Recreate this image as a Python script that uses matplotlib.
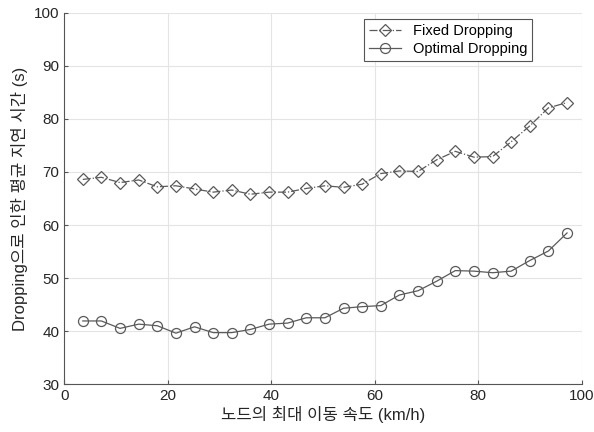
import matplotlib
matplotlib.use('Agg')
import matplotlib.pyplot as plt

# node max speed (km/h): 1..27 m/s
speeds = [3.6 * k for k in range(1, 28)]
fixed_delay = [68.6, 69.0, 68.0, 68.5, 67.2, 67.4, 66.8, 66.2, 66.6, 65.8,
               66.2, 66.2, 66.9, 67.4, 67.1, 67.7, 69.7, 70.2, 70.1, 72.3,
               73.9, 72.8, 72.9, 75.7, 78.7, 82.1, 83.1]
optimal_delay = [41.9, 41.9, 40.5, 41.3, 41.0, 39.6, 40.8, 39.7, 39.7, 40.3,
                 41.3, 41.5, 42.5, 42.5, 44.3, 44.6, 44.8, 46.8, 47.6, 49.4,
                 51.4, 51.3, 51.0, 51.3, 53.3, 55.1, 58.5]
xticks = [0, 20, 40, 60, 80, 100]
yticks = [30, 40, 50, 60, 70, 80, 90, 100]

FONTS = ['Liberation Sans', 'Noto Sans CJK KR']
TXT = '#262626'
LINE = '#5a5a5a'

plt.rcParams['font.family'] = FONTS
plt.rcParams['font.size'] = 11

fig = plt.figure(figsize=(5.94, 4.32), dpi=100)
ax = fig.add_axes([0.108, 0.111, 0.871, 0.859])

ax.plot(speeds, fixed_delay, '-.', color=LINE, lw=0.9, marker='D',
        markersize=6.2, markerfacecolor='none', markeredgecolor=LINE,
        markeredgewidth=0.9, label='Fixed Dropping')
ax.plot(speeds, optimal_delay, '-', color=LINE, lw=0.9, marker='o',
        markersize=7.2, markerfacecolor='none', markeredgecolor=LINE,
        markeredgewidth=0.9, label='Optimal Dropping')

ax.set_xlim(0, 100)
ax.set_ylim(30, 100)
ax.set_xticks(xticks)
ax.set_yticks(yticks)
ax.grid(True, color='#e4e4e4', lw=0.8)
ax.set_axisbelow(True)
ax.tick_params(direction='in', length=3, color='#555555', labelcolor=TXT,
               labelsize=11)
ax.spines['top'].set_visible(False)
ax.spines['right'].set_visible(False)
for s in ('left', 'bottom'):
    ax.spines[s].set_color('#555555')
    ax.spines[s].set_linewidth(0.8)

ax.set_xlabel('노드의 최대 이동 속도 (km/h)', color=TXT, fontsize=12, labelpad=2)
ax.set_ylabel('Dropping으로 인한 평균 지연 시간 (s)', color=TXT, fontsize=12,
              labelpad=4)

leg = ax.legend(loc='upper right', bbox_to_anchor=(0.905, 0.985), fontsize=10.5,
                fancybox=False, framealpha=1, edgecolor='#555555',
                handlelength=2.2, borderpad=0.35, labelspacing=0.3,
                borderaxespad=0)
leg.get_frame().set_linewidth(0.8)
for t in leg.get_texts():
    t.set_color('#000000')

fig.savefig('out.png', dpi=100)
